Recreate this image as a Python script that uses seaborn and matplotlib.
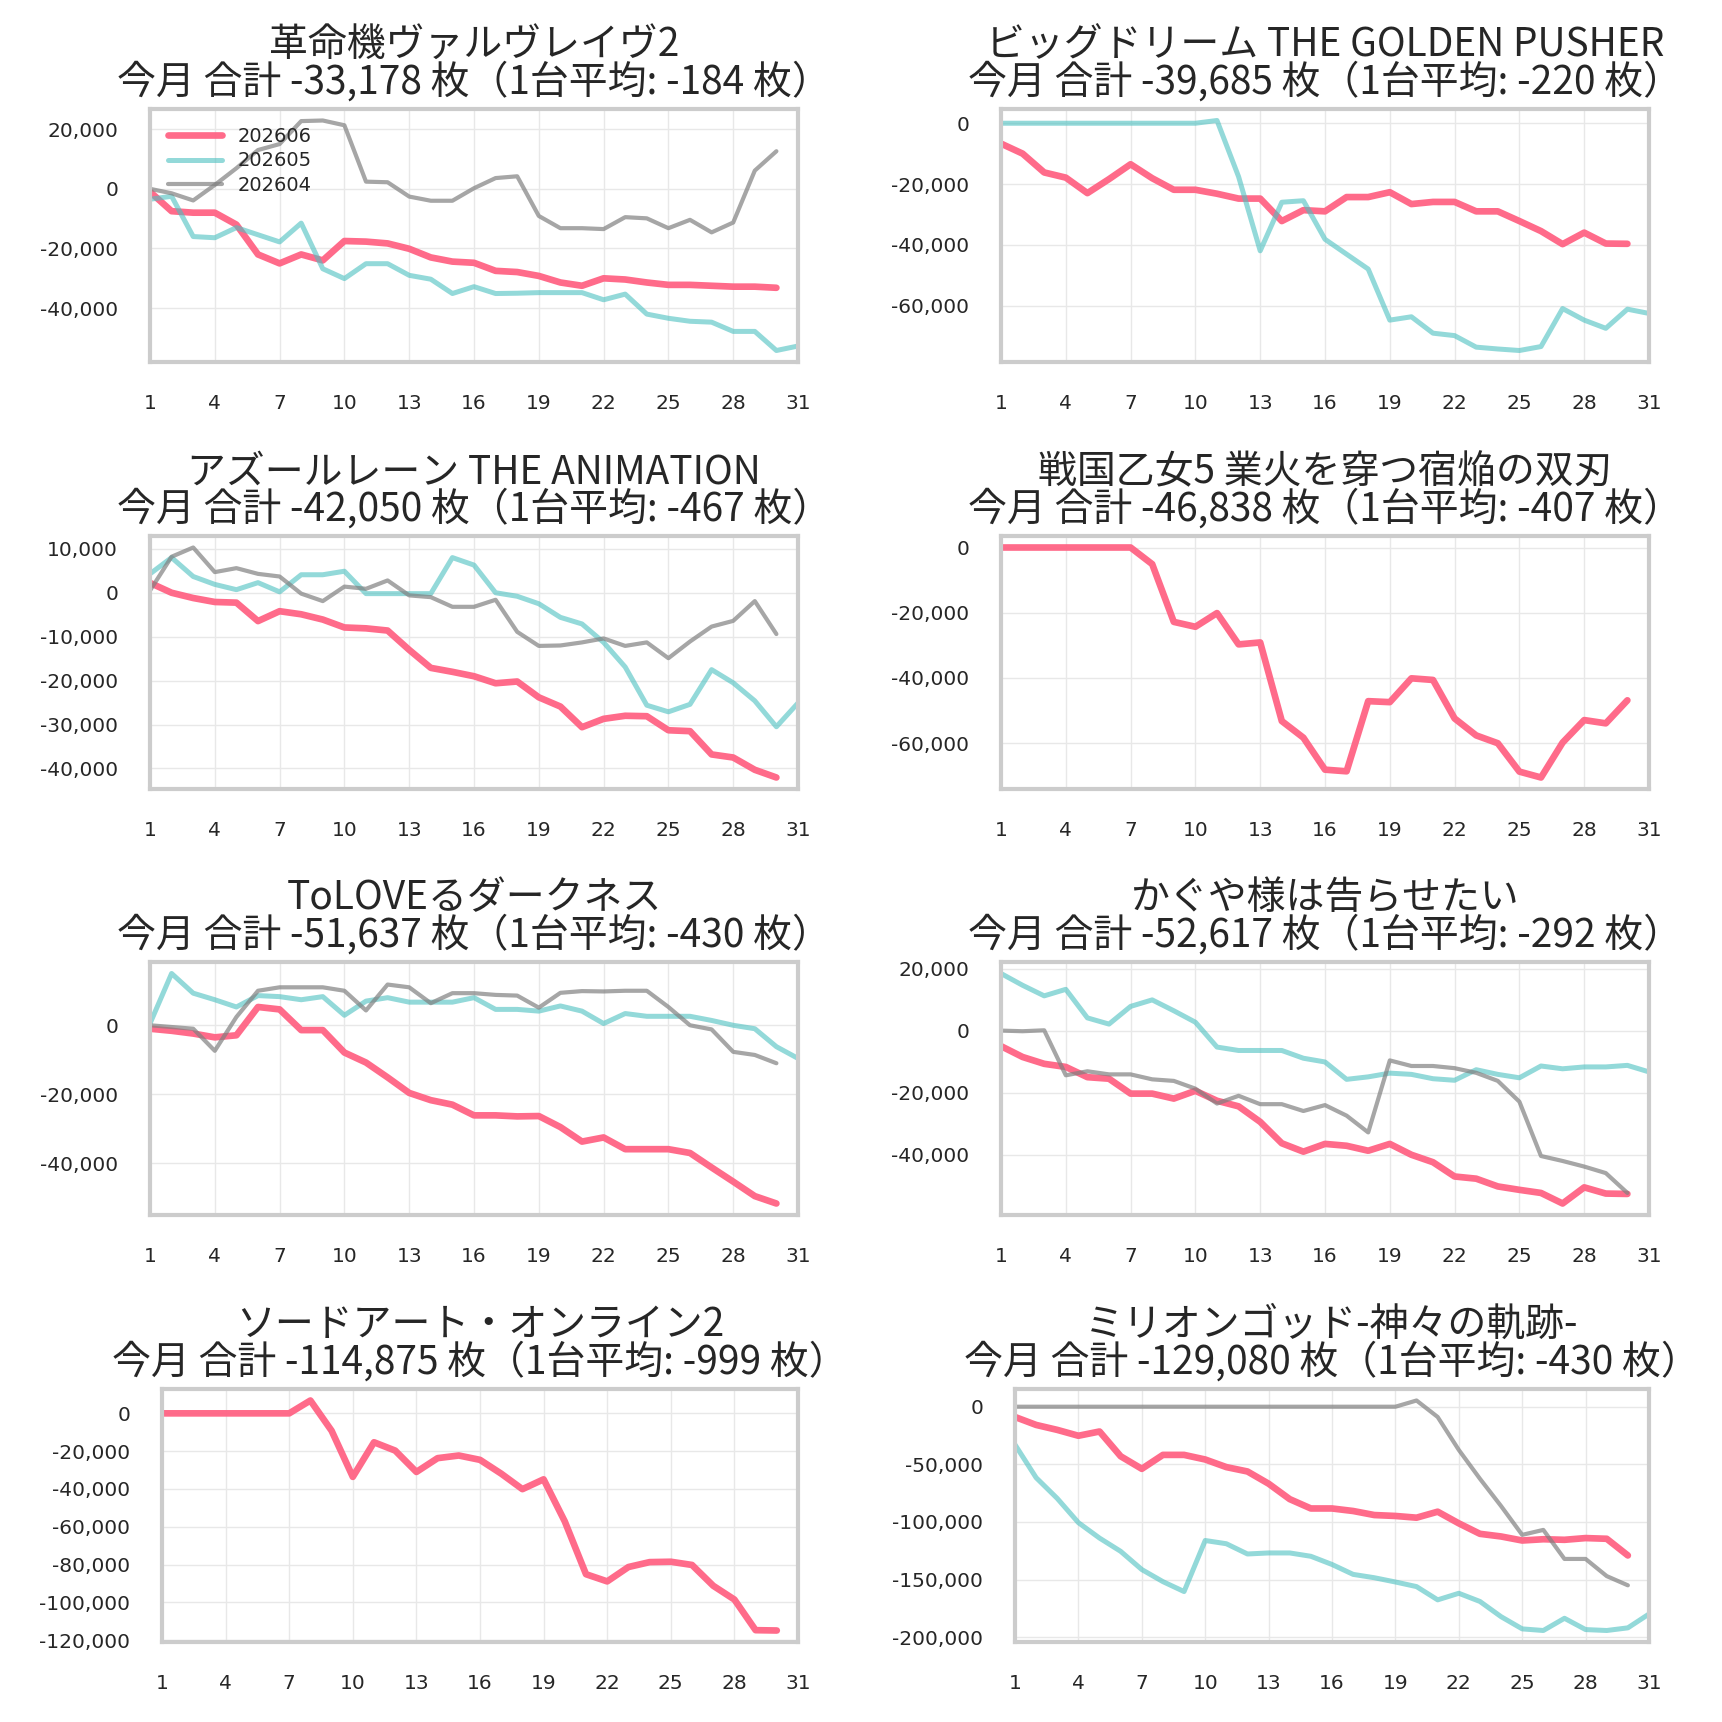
import matplotlib
matplotlib.use("Agg")
import matplotlib.pyplot as plt
import seaborn as sns
from matplotlib.ticker import MaxNLocator, FuncFormatter, FixedLocator

# ---- datos (lecturas aproximadas del grafico) ----
DIAS_30 = list(range(1, 31))
DIAS_31 = list(range(1, 32))
SERIES = ["202606", "202605", "202604"]

TITULOS = [
    "革命機ヴァルヴレイヴ2",
    "ビッグドリーム THE GOLDEN PUSHER",
    "アズールレーン THE ANIMATION",
    "戦国乙女5 業火を穿つ宿焔の双刃",
    "ToLOVEるダークネス",
    "かぐや様は告らせたい",
    "ソードアート・オンライン2",
    "ミリオンゴッド-神々の軌跡-",
]
TOTALES = [-33178, -39685, -42050, -46838, -51637, -52617, -114875, -129080]
PROMEDIOS = [-184, -220, -467, -407, -430, -292, -999, -430]

valvrave_06 = [-1000, -7500, -8000, -8000, -12000, -22000, -25000, -22000, -24000, -17500,
               -17700, -18300, -20100, -23000, -24400, -24800, -27500, -27900, -29200, -31400,
               -32500, -30000, -30400, -31400, -32200, -32200, -32500, -32800, -32800, -33178]
valvrave_05 = [-3500, -2500, -16000, -16400, -13000, -15400, -17800, -11500, -26800, -30100,
               -25100, -25100, -29000, -30300, -35100, -32800, -35100, -35000, -34800, -34800,
               -34800, -37200, -35300, -42000, -43400, -44400, -44700, -47800, -47800, -54200,
               -52700]
valvrave_04 = [0, -1500, -3900, 1300, 6900, 13000, 15000, 22700, 22900, 21300,
               2400, 2200, -2600, -4000, -4000, 200, 3600, 4200, -9100, -13200,
               -13200, -13500, -9500, -9900, -13200, -10400, -14600, -11300, 6100, 12600]

bigdream_06 = [-6700, -10000, -16200, -17900, -23000, -18400, -13500, -18100, -21900, -21900,
               -23200, -24800, -24800, -32200, -28600, -29000, -24300, -24300, -22700, -26600,
               -25900, -25900, -29000, -29000, -32200, -35500, -39800, -36000, -39600, -39685]
bigdream_05 = [0, 0, 0, 0, 0, 0, 0, 0, 0, 0,
               900, -17600, -42000, -26000, -25500, -38200, -43100, -48000, -64800, -63700,
               -69100, -69900, -73700, -74300, -74800, -73500, -61000, -64800, -67500, -61200,
               -62600]

azur_06 = [2250, 0, -1200, -2100, -2250, -6450, -4200, -4900, -6100, -7900,
           -8100, -8600, -13000, -17100, -18000, -19000, -20600, -20200, -23800, -25900,
           -30600, -28700, -28000, -28100, -31300, -31500, -36800, -37500, -40300, -42050]
azur_05 = [4300, 8000, 3700, 1900, 700, 2300, 200, 4100, 4100, 4900,
           -200, -200, -200, -200, 8000, 6300, 0, -800, -2500, -5600,
           -7100, -11300, -16900, -25600, -27100, -25400, -17500, -20500, -24600, -30500,
           -25100]
azur_04 = [500, 8200, 10300, 4700, 5600, 4300, 3700, -200, -1900, 1400,
           900, 2800, -600, -1000, -3200, -3200, -1600, -8900, -12100, -12000,
           -11300, -10400, -12100, -11300, -14900, -11100, -7700, -6400, -1900, -9400]

sengoku_06 = [0, 0, 0, 0, 0, 0, 0, -5100, -22800, -24300,
              -20100, -29700, -29100, -53200, -58300, -68100, -68600, -47100, -47400, -40100,
              -40600, -52400, -57600, -60000, -68700, -70500, -59800, -52900, -53900, -46838]

tolove_06 = [-1000, -1600, -2400, -3500, -2900, 5300, 4600, -1400, -1400, -7900,
             -10800, -15100, -19600, -21700, -23000, -26100, -26100, -26400, -26300, -29500,
             -33700, -32500, -35900, -35900, -35900, -37000, -41200, -45300, -49500, -51637]
tolove_05 = [500, 15000, 9300, 7400, 5300, 8600, 8300, 7400, 8300, 2900,
             7000, 8000, 6700, 6700, 6700, 8000, 4600, 4600, 4100, 5600,
             4100, 500, 3400, 2600, 2600, 2600, 1400, 0, -1000, -6200,
             -9600]
tolove_04 = [0, -500, -1000, -7400, 2400, 10000, 11000, 11000, 11000, 10000,
             4300, 11800, 11000, 6400, 9300, 9300, 8800, 8600, 5100, 9400,
             9900, 9800, 10000, 10000, 5300, 0, -1200, -7700, -8600, -11000]

kaguya_06 = [-5000, -8500, -10700, -11700, -15000, -15500, -20300, -20300, -21900, -19400,
             -22600, -24400, -29400, -36300, -39000, -36500, -37100, -38700, -36500, -40000,
             -42400, -47000, -47700, -50200, -51300, -52300, -55700, -50500, -52500, -52617]
kaguya_05 = [18400, 14600, 11200, 13300, 4100, 2100, 7800, 9900, 6400, 2700,
             -5300, -6400, -6400, -6400, -8900, -10100, -15700, -14900, -13700, -14100,
             -15500, -16000, -12600, -14100, -15200, -11400, -12300, -11700, -11700, -11200,
             -13300]
kaguya_04 = [0, -200, 100, -14400, -13100, -14100, -14100, -15700, -16200, -18700,
             -23500, -21000, -23700, -23700, -25900, -24000, -27400, -32800, -9600, -11400,
             -11400, -12100, -13600, -16200, -22900, -40400, -42000, -43800, -45900, -52300]

sao_06 = [0, 0, 0, 0, 0, 0, 0, 6800, -9200, -33600,
          -15300, -19700, -31000, -23700, -22300, -24600, -31900, -40100, -34900, -57200,
          -85100, -88900, -81300, -78700, -78500, -80200, -91200, -98500, -114700, -114875]

milliongod_06 = [-8900, -15800, -20100, -25200, -21500, -43000, -53900, -41800, -41800, -45800,
                 -52400, -56200, -66800, -80200, -88300, -88300, -90500, -94000, -94800, -96300,
                 -91100, -101200, -110300, -112600, -116100, -115000, -115500, -114000, -114600, -129080]
milliongod_05 = [-32900, -61600, -79600, -100600, -114000, -125500, -141300, -151800, -160400, -116100,
                 -118900, -127800, -126900, -126900, -129800, -136900, -145500, -148400, -152100, -156100,
                 -167600, -161900, -169000, -182200, -192800, -194200, -183600, -193400, -194200, -191900,
                 -179900]
milliongod_04 = [0, 0, 0, 0, 0, 0, 0, 0, 0, 0,
                 0, 0, 0, 0, 0, 0, 0, 0, 0, 5400,
                 -8900, -37500, -62500, -86200, -111200, -106900, -132100, -132100, -147000, -155000]

DATOS = [
    (valvrave_06, valvrave_05, valvrave_04),
    (bigdream_06, bigdream_05, None),
    (azur_06, azur_05, azur_04),
    (sengoku_06, None, None),
    (tolove_06, tolove_05, tolove_04),
    (kaguya_06, kaguya_05, kaguya_04),
    (sao_06, None, None),
    (milliongod_06, milliongod_05, milliongod_04),
]

COLORES = ["#ff6384", "#4bc0c0", "#808080"]
ANCHOS = [4.8, 3.6, 3.0]
ALFAS = [0.95, 0.6, 0.7]

sns.set_theme(style="whitegrid")
plt.rcParams["font.family"] = ["DejaVu Sans", "Noto Sans CJK JP"]

fig, axes = plt.subplots(4, 2, figsize=(17.22, 17.22), dpi=100)
axes = axes.flatten()

for i, ax in enumerate(axes):
    for j, serie in enumerate(DATOS[i]):
        if serie is None:
            continue
        dias = DIAS_31 if len(serie) == 31 else DIAS_30
        sns.lineplot(x=dias, y=serie, ax=ax, color=COLORES[j], linewidth=ANCHOS[j],
                     alpha=ALFAS[j], label=SERIES[j] if i == 0 else None, legend=False)

    ax.set_title(f"{TITULOS[i]}\n今月 合計 {TOTALES[i]:,} 枚（1台平均: {PROMEDIOS[i]:,} 枚）",
                 fontsize=28, color="#262626", pad=11, linespacing=0.9,
                 family=["Noto Sans CJK JP", "DejaVu Sans"])
    ax.set_xlim(1, 31)
    ax.xaxis.set_major_locator(FixedLocator(range(1, 32, 3)))
    ax.yaxis.set_major_locator(MaxNLocator(nbins=7, steps=[1, 2, 5, 10]))
    ax.yaxis.set_major_formatter(FuncFormatter(lambda v, p: f"{v:,.0f}"))
    ax.tick_params(axis="both", labelsize=14.5, length=0, pad=23, colors="#262626")
    ax.grid(True, color="#e8e8e8", linewidth=1)
    for s in ax.spines.values():
        s.set_visible(True)
        s.set_color("#cccccc")
        s.set_linewidth(3)

axes[0].legend(loc="upper left", frameon=False, fontsize=14, handlelength=2.8,
               labelspacing=0.3)

# posiciones de los ejes (en pixeles de la figura)
W = 1722
tops = [109, 536, 962, 1389]
h = 253
for i, ax in enumerate(axes):
    fila, col = divmod(i, 2)
    if col == 0:
        x0 = 162 if fila == 3 else 150
        x1 = 798
    else:
        x0 = 1015 if fila == 3 else 1001
        x1 = 1649
    y0 = W - (tops[fila] + h)
    ax.set_position([x0 / W, y0 / W, (x1 - x0) / W, h / W])

fig.savefig("out.png", dpi=100)
plt.close()
